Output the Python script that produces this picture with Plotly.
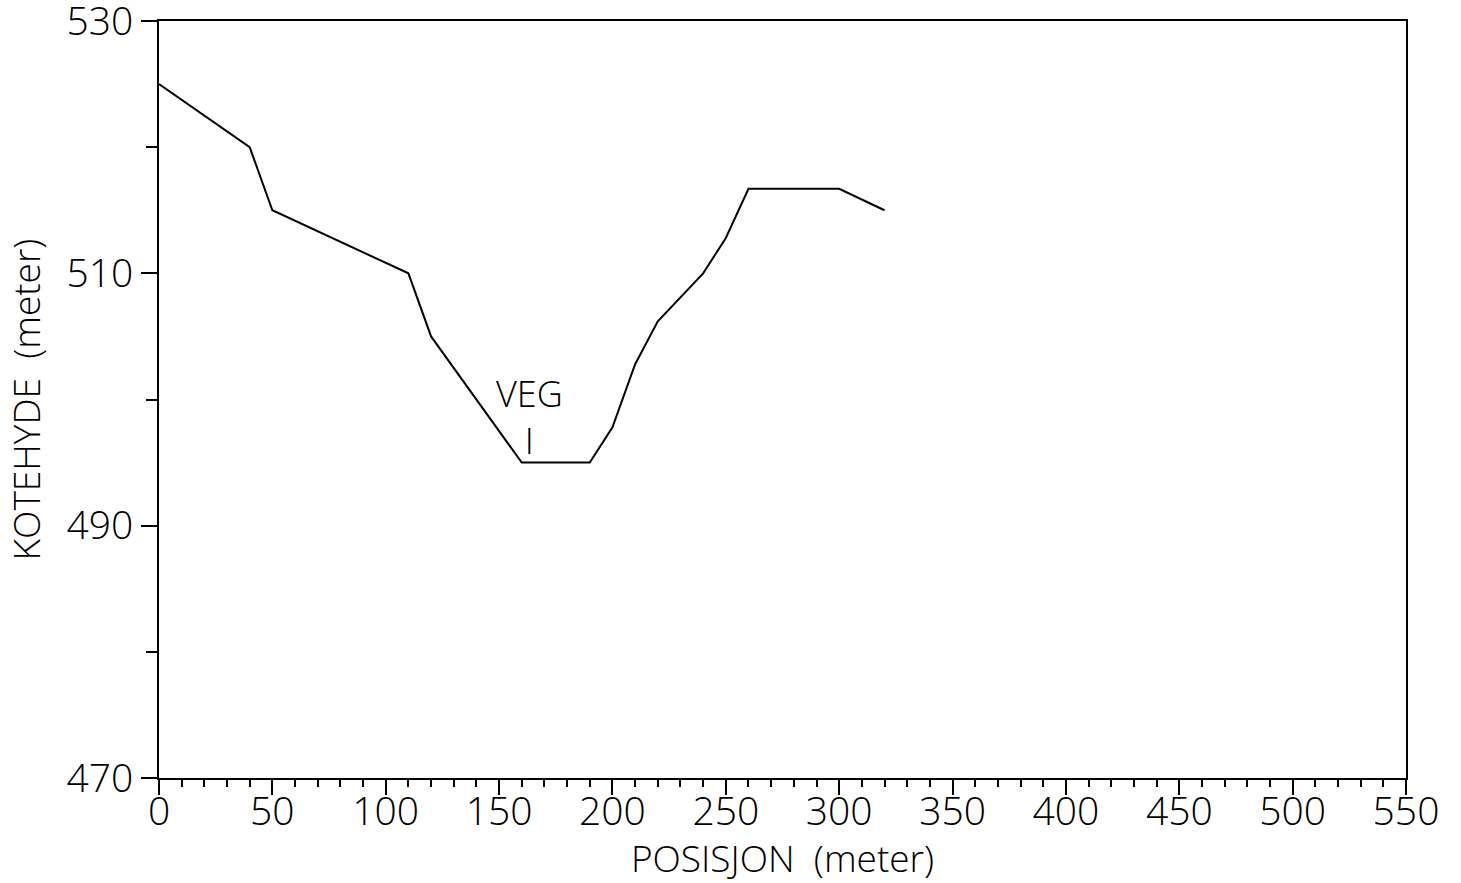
import plotly.graph_objects as go

# Terrain profile: position (m) vs elevation (m)
posisjon = [0, 40, 50, 110, 120, 140, 160, 190, 200, 210, 220, 240, 250, 260, 300, 320]
kotehyde = [525, 520, 515, 510, 505, 500, 495, 495, 497.8, 502.8, 506.2, 510, 512.8, 516.7, 516.7, 515]

x_ticks = [0, 50, 100, 150, 200, 250, 300, 350, 400, 450, 500, 550]
y_ticks = [470, 490, 510, 530]

FONT = "Open Sans"

fig = go.Figure()
fig.add_trace(go.Scatter(
    x=posisjon, y=kotehyde, mode="lines",
    line=dict(color="black", width=2), showlegend=False, hoverinfo="skip",
))

fig.add_annotation(x=163.5, y=498.6, text="VEG<br>I", showarrow=False,
                   font=dict(family=FONT, size=36, color="black", weight=300),
                   xanchor="center", yanchor="middle", align="center")

axis_font = dict(family=FONT, size=39, color="black", weight=300)
title_font = dict(family=FONT, size=37, color="black", weight=300)

fig.update_layout(
    width=1461, height=883,
    margin=dict(l=159, r=55, t=21, b=105),
    paper_bgcolor="white", plot_bgcolor="white",
    xaxis=dict(
        range=[0, 550], tickmode="array", tickvals=x_ticks,
        ticktext=[str(v) for v in x_ticks],
        showgrid=False, zeroline=False, automargin=False,
        showline=True, linecolor="black", linewidth=2, mirror=True,
        ticks="outside", ticklen=15, tickwidth=2, tickcolor="black",
        minor=dict(dtick=10, tick0=0, ticks="outside", ticklen=7, tickwidth=2, tickcolor="black", showgrid=False),
        tickfont=axis_font, ticklabelstandoff=-17, ticklabeloverflow="allow",
        title=dict(text="POSISJON  (meter)", font=title_font, standoff=4),
    ),
    yaxis=dict(
        range=[470, 530], tickmode="array", tickvals=y_ticks,
        ticktext=[str(v) for v in y_ticks],
        showgrid=False, zeroline=False, automargin=False,
        showline=True, linecolor="black", linewidth=2, mirror=True,
        ticks="outside", ticklen=16, tickwidth=2, tickcolor="black",
        minor=dict(dtick=10, tick0=470, ticks="outside", ticklen=11, tickwidth=2, tickcolor="black", showgrid=False),
        tickfont=axis_font, ticklabeloverflow="allow",
        title=dict(text="KOTEHYDE  (meter)", font=title_font, standoff=18),
    ),
)

fig.write_html("out.html")
